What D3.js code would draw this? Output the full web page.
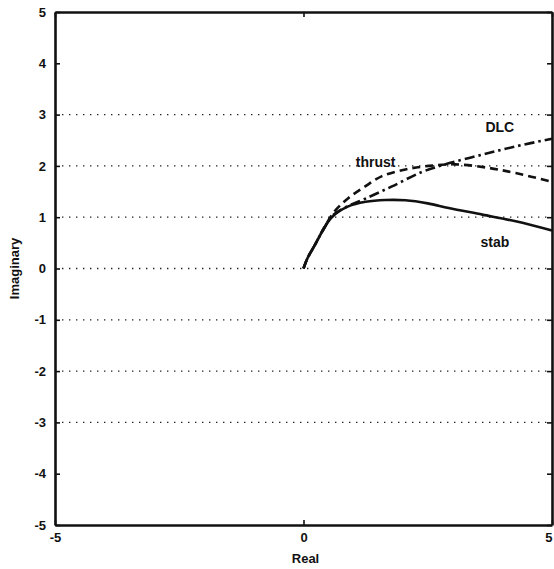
<!DOCTYPE html>
<html>
<head>
<meta charset="utf-8">
<script src="https://cdn.jsdelivr.net/npm/d3@7"></script>
<style>
  html, body { margin: 0; padding: 0; background: #fff; }
  svg { display: block; }
  text { font-family: "Liberation Sans", Arial, sans-serif; font-weight: bold; fill: #111; }
</style>
</head>
<body>
<svg id="chart" width="554" height="569"></svg>
<script>
// Root-locus branches in the complex plane (real, imaginary)
const stabRe   = [0, 0.08, 0.23, 0.4, 0.57, 0.9, 1.25, 1.65, 2.05, 2.5, 2.92, 3.6, 4.27, 5.0];
const stabIm   = [0, 0.2, 0.46, 0.76, 1.0, 1.21, 1.3, 1.335, 1.33, 1.27, 1.18, 1.05, 0.92, 0.74];

const thrustRe = [0, 0.08, 0.23, 0.4, 0.63, 0.9, 1.24, 1.58, 2.05, 2.52, 3.06, 3.73, 4.27, 5.0];
const thrustIm = [0, 0.2, 0.46, 0.77, 1.12, 1.37, 1.6, 1.8, 1.93, 2.0, 2.03, 1.96, 1.86, 1.69];

const dlcRe    = [0, 0.08, 0.23, 0.4, 0.57, 0.9, 1.24, 1.78, 2.38, 2.92, 3.6, 4.27, 5.0];
const dlcIm    = [0, 0.2, 0.46, 0.76, 1.02, 1.22, 1.36, 1.6, 1.88, 2.05, 2.22, 2.38, 2.53];

const xTicks = [-5, 0, 5];
const yTicks = [-5, -4, -3, -2, -1, 0, 1, 2, 3, 4, 5];
const gridLevels = [-3, -2, -1, 0, 1, 2, 3];

const series = [
  { name: "stab",   re: stabRe,   im: stabIm,   dash: null },
  { name: "thrust", re: thrustRe, im: thrustIm, dash: "8,5" },
  { name: "DLC",    re: dlcRe,    im: dlcIm,    dash: "10,4,2.5,4" }
];
const labels = [
  { text: "DLC",    re: 3.95, im: 2.66 },
  { text: "thrust", re: 1.45, im: 1.97 },
  { text: "stab",   re: 3.85, im: 0.42 }
];

const svg = d3.select("#chart");
const mLeft = 55, mRight = 552, mTop = 12, mBottom = 525;

const x = d3.scaleLinear().domain([-5, 5]).range([mLeft, mRight]);
const y = d3.scaleLinear().domain([-5, 5]).range([mBottom, mTop]);
const fmt = d => String(d);

// dotted horizontal grid
svg.append("g").selectAll("line").data(gridLevels).join("line")
  .attr("x1", mLeft).attr("x2", mRight)
  .attr("y1", d => y(d)).attr("y2", d => y(d))
  .attr("stroke", "#222").attr("stroke-width", 1.3)
  .attr("stroke-dasharray", "1.4,5.6");

// axes with inward ticks
const axL = d3.axisLeft(y).tickValues(yTicks).tickFormat(fmt).tickSizeInner(-5).tickSizeOuter(0).tickPadding(9);
const axB = d3.axisBottom(x).tickValues(xTicks).tickFormat(fmt).tickSizeInner(-5).tickSizeOuter(0).tickPadding(8);
const axR = d3.axisRight(y).tickValues(yTicks).tickSizeInner(-5).tickSizeOuter(0).tickFormat("");
const axT = d3.axisTop(x).tickValues(xTicks).tickSizeInner(-5).tickSizeOuter(0).tickFormat("");

const gL = svg.append("g").attr("transform", `translate(${mLeft},0)`).call(axL);
const gB = svg.append("g").attr("transform", `translate(0,${mBottom})`).call(axB);
const gR = svg.append("g").attr("transform", `translate(${mRight},0)`).call(axR);
const gT = svg.append("g").attr("transform", `translate(0,${mTop})`).call(axT);

[gL, gB, gR, gT].forEach(g => {
  g.select(".domain").attr("stroke", "#111").attr("stroke-width", 2.6);
  g.selectAll(".tick line").attr("stroke", "#111").attr("stroke-width", 1.6);
  g.selectAll(".tick text").attr("font-size", 13).attr("font-weight", "bold")
    .attr("font-family", "Liberation Sans, Arial, sans-serif").attr("fill", "#111");
});
// keep the last x label inside the frame
gB.selectAll(".tick text").filter(d => d === 5).attr("text-anchor", "end").attr("dx", 0);

// curves
const line = d3.line().x(d => x(d[0])).y(d => y(d[1])).curve(d3.curveCatmullRom.alpha(0.5));
svg.append("clipPath").attr("id", "plot")
  .append("rect").attr("x", mLeft).attr("y", mTop).attr("width", mRight - mLeft + 2).attr("height", mBottom - mTop);

svg.append("g").attr("clip-path", "url(#plot)").selectAll("path").data(series).join("path")
  .attr("d", s => line(s.re.map((r, i) => [r, s.im[i]])))
  .attr("fill", "none").attr("stroke", "#111").attr("stroke-width", 2.6)
  .attr("stroke-dasharray", s => s.dash)
  .attr("stroke-linecap", "butt");

// curve names
svg.append("g").selectAll("text").data(labels).join("text")
  .attr("x", d => x(d.re)).attr("y", d => y(d.im))
  .attr("font-size", 14).attr("text-anchor", "middle")
  .text(d => d.text);

// axis titles
svg.append("text").attr("x", (mLeft + mRight) / 2 + 2).attr("y", 563)
  .attr("text-anchor", "middle").attr("font-size", 13).text("Real");
svg.append("text").attr("transform", `translate(19,${(mTop + mBottom) / 2}) rotate(-90)`)
  .attr("text-anchor", "middle").attr("font-size", 13).text("Imaginary");
</script>
</body>
</html>
